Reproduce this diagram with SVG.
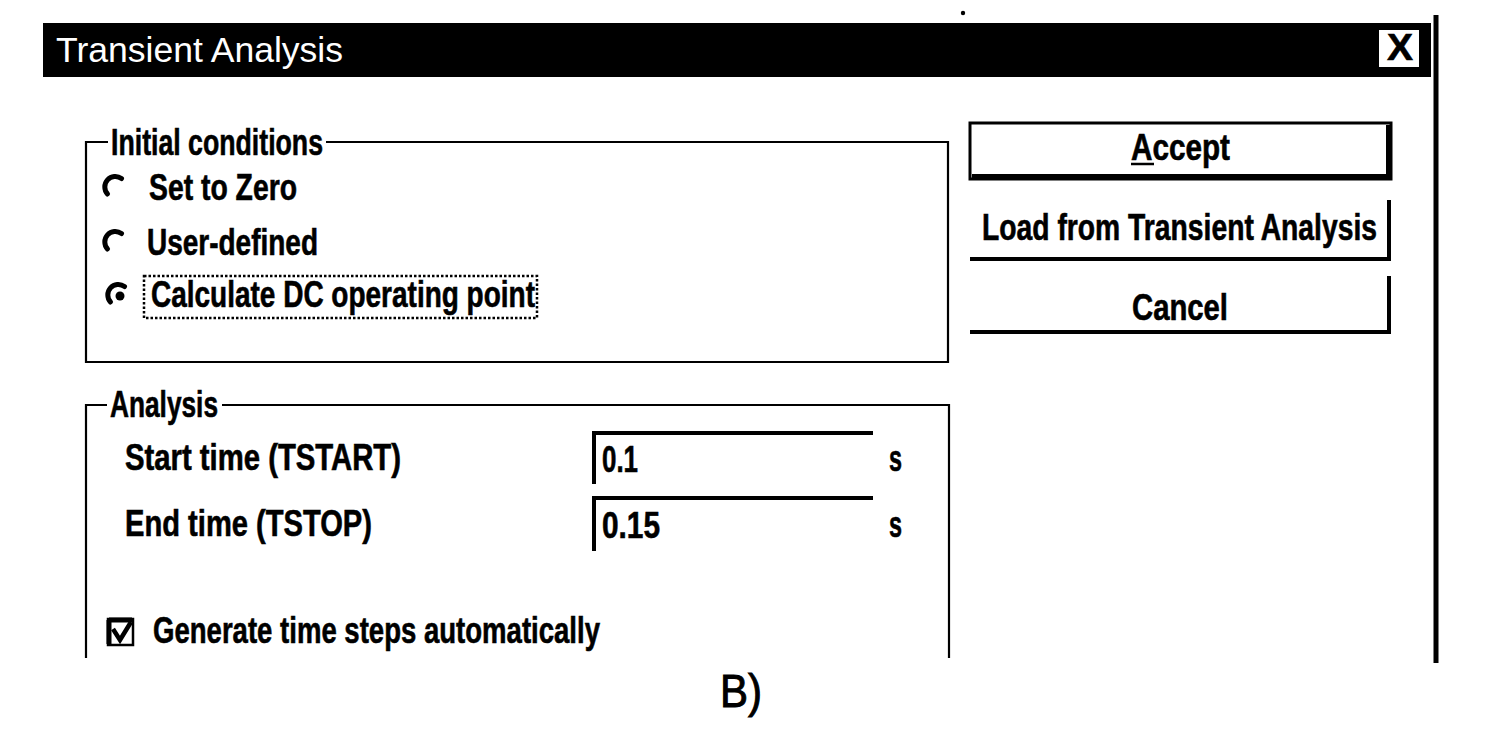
<svg xmlns="http://www.w3.org/2000/svg" width="1485" height="753" viewBox="0 0 1485 753">
<style>
  .t { font-family: "Liberation Sans", Arial, sans-serif; font-weight: bold; font-size: 36px; fill: #000; stroke: #000; stroke-width: 0.6; }
  .ttl { font-family: "Liberation Sans", Arial, sans-serif; font-size: 35px; fill: #fff; }
  .thin { fill: none; stroke: #000; stroke-width: 2.2; }
  .thick { fill: none; stroke: #000; stroke-width: 4; }
  .radio { fill: none; stroke: #000; stroke-width: 5; stroke-linecap: round; }
</style>
<rect width="1485" height="753" fill="#fff"/>

<g id="titlebar">
  <rect x="43" y="23" width="1388" height="54" fill="#000"/>
  <text class="ttl" x="56" y="62" textLength="287" lengthAdjust="spacingAndGlyphs">Transient Analysis</text>
  <rect x="1379" y="30" width="40" height="37" fill="#fff"/>
  <text class="t" x="1387" y="60" font-size="31" textLength="26" lengthAdjust="spacingAndGlyphs">X</text>
</g>

<g id="window-edge">
  <line x1="1436" y1="15" x2="1436" y2="663" stroke="#000" stroke-width="5"/>
  <circle cx="963" cy="13" r="2.2" fill="#000"/>
</g>

<g id="initial-conditions">
  <path class="thin" d="M108 142 H86 V362 H948 V142 H326"/>
  <text class="t" x="111" y="155" textLength="212" lengthAdjust="spacingAndGlyphs">Initial conditions</text>
  <path class="radio" d="M107.5 194 A10.5 10.5 0 0 1 121.5 178.5"/>
  <text class="t" x="149" y="200" textLength="148" lengthAdjust="spacingAndGlyphs">Set to Zero</text>
  <path class="radio" d="M107.5 249 A10.5 10.5 0 0 1 121.5 233.5"/>
  <text class="t" x="147" y="255" textLength="171" lengthAdjust="spacingAndGlyphs">User-defined</text>
  <path class="radio" d="M110.5 302 A10.5 10.5 0 0 1 124.5 286.5"/>
  <circle cx="120" cy="296" r="4.5" fill="#000"/>
  <rect x="144" y="276" width="393" height="42" fill="none" stroke="#000" stroke-width="2.5" stroke-dasharray="2.5 2"/>
  <text class="t" x="151" y="307" textLength="384" lengthAdjust="spacingAndGlyphs">Calculate DC operating point</text>
</g>

<g id="btn-accept">
  <rect x="970" y="123" width="421" height="56" fill="none" stroke="#000" stroke-width="3"/>
  <path class="thick" d="M972 176 H1388 V125"/>
  <text class="t" x="1131" y="160" textLength="99" lengthAdjust="spacingAndGlyphs">Accept</text>
  <line x1="1131" y1="164" x2="1154" y2="164" stroke="#000" stroke-width="2.5"/>
</g>

<g id="btn-load">
  <path class="thick" d="M970 259 H1389 V200"/>
  <text class="t" x="982" y="240" textLength="395" lengthAdjust="spacingAndGlyphs">Load from Transient Analysis</text>
</g>

<g id="btn-cancel">
  <path class="thick" d="M970 332 H1389 V276"/>
  <text class="t" x="1132" y="320" textLength="96" lengthAdjust="spacingAndGlyphs">Cancel</text>
</g>

<g id="analysis">
  <path class="thin" d="M86 658 V405 H107"/>
  <path class="thin" d="M222 405 H949 V658"/>
  <text class="t" x="110" y="417" textLength="108" lengthAdjust="spacingAndGlyphs">Analysis</text>
  <text class="t" x="125" y="470" textLength="276" lengthAdjust="spacingAndGlyphs">Start time (TSTART)</text>
  <path class="thick" d="M594 484 V433 H873"/>
  <text class="t" x="602" y="472" font-weight="normal" textLength="36" lengthAdjust="spacingAndGlyphs">0.1</text>
  <text class="t" x="889" y="471" font-size="30" textLength="13" lengthAdjust="spacingAndGlyphs">s</text>
  <text class="t" x="125" y="536" textLength="247" lengthAdjust="spacingAndGlyphs">End time (TSTOP)</text>
  <path class="thick" d="M594 551 V498 H873"/>
  <text class="t" x="602" y="538" font-weight="normal" textLength="58" lengthAdjust="spacingAndGlyphs">0.15</text>
  <text class="t" x="889" y="537" font-size="30" textLength="13" lengthAdjust="spacingAndGlyphs">s</text>
  <rect x="108" y="619" width="25" height="26" fill="none" stroke="#000" stroke-width="2.5"/>
  <path d="M109 620 V644 M109 620 H132" stroke="#000" stroke-width="5" fill="none"/>
  <path d="M113 629 L120 640 L131 622" stroke="#000" stroke-width="4.5" fill="none"/>
  <text class="t" x="153" y="643" textLength="447" lengthAdjust="spacingAndGlyphs">Generate time steps automatically</text>
</g>

<g id="caption">
  <text x="720" y="707" font-family="Liberation Sans, Arial, sans-serif" font-size="46" stroke="#000" stroke-width="1" textLength="42" lengthAdjust="spacingAndGlyphs">B)</text>
</g>
</svg>
